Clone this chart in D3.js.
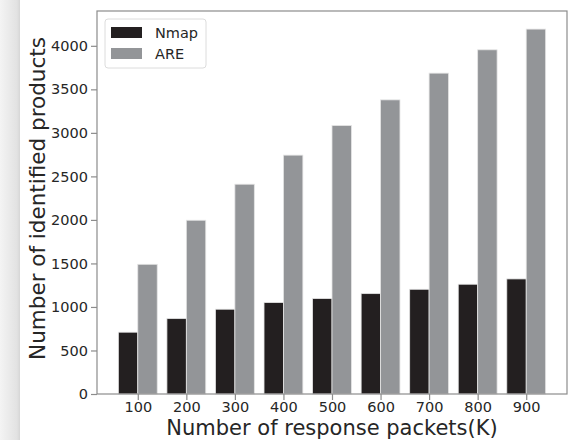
<!DOCTYPE html>
<html>
<head>
<meta charset="utf-8">
<script src="https://cdn.jsdelivr.net/npm/d3@7"></script>
<style>
  body { margin: 0; background: #fff; }
  text { font-family: "DejaVu Sans", sans-serif; fill: #262626; }
</style>
</head>
<body>
<div id="chart"></div>
<script>
// data
var categories = ["100", "200", "300", "400", "500", "600", "700", "800", "900"]
var nmap = [710, 866, 974, 1050, 1096, 1153, 1203, 1261, 1322]
var are = [1490, 1996, 2410, 2744, 3084, 3379, 3686, 3954, 4192]
var seriesNames = ["Nmap", "ARE"]
var seriesColors = ["#231f20", "#939598"]
var yTicks = [0, 500, 1000, 1500, 2000, 2500, 3000, 3500, 4000]

var width = 571, height = 440
var margin = {left: 97, right: 4, top: 11, bottom: 46}

var svg = d3.select("#chart")
  .append("svg")
  .attr("width", width)
  .attr("height", height)

// scanned page shadow on the left edge
var grad = svg.append("defs").append("linearGradient")
  .attr("id", "shade")
grad.append("stop").attr("offset", "0%").attr("stop-color", "#f4f4f4")
grad.append("stop").attr("offset", "85%").attr("stop-color", "#e2e2e2")
grad.append("stop").attr("offset", "100%").attr("stop-color", "#d6d6d6")
svg.append("rect")
  .attr("width", 20).attr("height", height)
  .attr("fill", "url(#shade)")

var plotW = width - margin.left - margin.right
var plotH = height - margin.top - margin.bottom

// matplotlib-like linear x: group i at index i, bars at i-0.2 / i+0.2, width 0.4
var x = d3.scaleLinear().domain([-0.84, 8.84]).range([margin.left, margin.left + plotW])
var y = d3.scaleLinear().domain([0, 4400]).range([margin.top + plotH, margin.top])

var bw = x(0.4) - x(0)
var series = [nmap, are]
series.forEach(function(vals, s) {
  svg.append("g").selectAll("rect")
    .data(vals)
    .enter()
    .append("rect")
    .attr("x", function(d, i) { return x(i - 0.4 + s * 0.4) })
    .attr("width", bw)
    .attr("y", function(d) { return y(d) })
    .attr("height", function(d) { return y(0) - y(d) })
    .attr("fill", seriesColors[s])
    .attr("stroke", "#e4e4e4")
    .attr("stroke-width", 0.8)
})

// frame
svg.append("rect")
  .attr("x", margin.left).attr("y", margin.top)
  .attr("width", plotW).attr("height", plotH)
  .attr("fill", "none")
  .attr("stroke", "#8c8c8c")
  .attr("stroke-width", 1.2)

// axes
var yAxis = svg.append("g")
  .attr("transform", "translate(" + margin.left + ",0)")
  .call(d3.axisLeft(y).tickValues(yTicks).tickSize(6).tickPadding(3).tickFormat(d3.format("d")))
var xAxis = svg.append("g")
  .attr("transform", "translate(0," + (margin.top + plotH) + ")")
  .call(d3.axisBottom(x).tickValues(d3.range(categories.length)).tickSize(6).tickPadding(2)
    .tickFormat(function(d) { return categories[d] }))

;[xAxis, yAxis].forEach(function(a) {
  a.select(".domain").remove()
  a.selectAll("line").attr("stroke", "#8c8c8c").attr("stroke-width", 1.2)
  a.selectAll("text").attr("font-size", 14.5).attr("font-family", "DejaVu Sans").attr("fill", "#262626")
})

// axis titles
svg.append("text")
  .attr("x", margin.left + plotW / 2)
  .attr("y", 435)
  .attr("text-anchor", "middle")
  .attr("font-size", 21)
  .text("Number of response packets(K)")

svg.append("text")
  .attr("transform", "translate(45," + (margin.top + plotH / 2 - 4) + ") rotate(-90)")
  .attr("text-anchor", "middle")
  .attr("font-size", 21.5)
  .text("Number of identified products")

// legend
var lg = svg.append("g").attr("transform", "translate(105,19)")
lg.append("rect")
  .attr("width", 101).attr("height", 49)
  .attr("rx", 3)
  .attr("fill", "#fff")
  .attr("stroke", "#dcdcdc")
seriesNames.forEach(function(name, i) {
  lg.append("rect")
    .attr("x", 6).attr("y", 8 + i * 21)
    .attr("width", 31).attr("height", 11)
    .attr("fill", seriesColors[i])
  lg.append("text")
    .attr("x", 50).attr("y", 19 + i * 21)
    .attr("font-size", 14.5)
    .text(name)
})
</script>
</body>
</html>
